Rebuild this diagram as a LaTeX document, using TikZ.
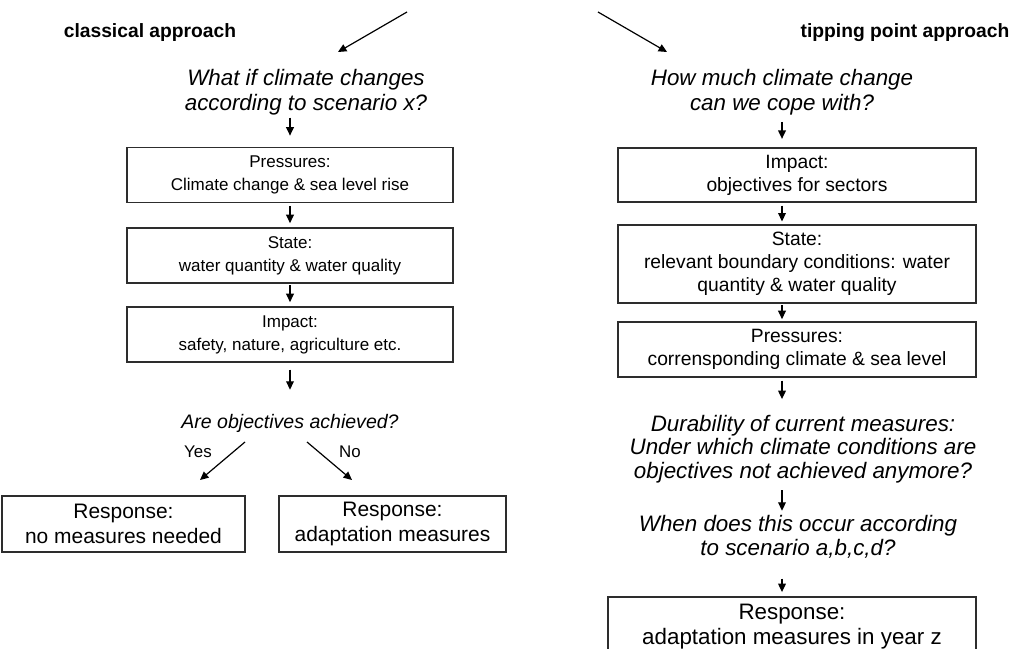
\documentclass[tikz,border=0pt]{standalone}
\usepackage{fontspec}
\setmainfont{Liberation Sans}
\usetikzlibrary{calc, arrows.meta}
\definecolor{boxline}{RGB}{45,45,45}

\begin{document}
\begin{tikzpicture}[x=0.025cm, y=-0.025cm, >={Triangle[width=5.5pt, length=6pt]},
  title/.style={font=\bfseries\fontsize{13.7}{16}\selectfont},
  quest/.style={align=center, inner sep=0pt, font=\itshape\fontsize{15.9}{17.4}\selectfont},
  boxL/.style={draw=boxline, line width=1pt, align=center, inner sep=0pt,
    minimum width=8.15cm, minimum height=1.37cm, font=\fontsize{12.1}{16.4}\selectfont},
  boxR/.style={boxL, minimum width=8.95cm, font=\fontsize{13.7}{16.4}\selectfont},
  resp/.style={boxL, minimum height=1.4cm, font=\fontsize{14.9}{17.8}\selectfont},
  flow/.style={->, line width=0.85pt},
  lab/.style={font=\fontsize{12}{14}\selectfont}]

  \useasboundingbox (0,0) rectangle (1013,649);

  % Titles
  \node[title] (tcl) at (150,33) {classical approach};
  \node[title] (ttp) at (905,33) {tipping point approach};

  % Split at the top
  \coordinate (fromL) at (407,12);
  \coordinate (toL) at (338,52);
  \coordinate (fromR) at (598,12);
  \coordinate (toR) at (667,52);
  \draw[flow] (fromL) -- (toL);
  \draw[flow] (fromR) -- (toR);

  % Classical approach
  \node[quest] (qL) at (306,92) {What if climate changes\\according to scenario x?};
  \node[boxL] (pL) at (290,175) {Pressures:\\Climate change \& sea level rise};
  \node[boxL] (sL) at (290,255.5) {State:\\water quantity \& water quality};
  \node[boxL] (iL) at (290,334.5) {Impact:\\safety, nature, agriculture etc.};
  \node[quest, font=\itshape\fontsize{13.9}{16}\selectfont] (aL) at (290,423) {Are objectives achieved?};
  \node[lab] (yes) at (198,452) {Yes};
  \node[lab] (no) at (350,452) {No};
  \node[resp, minimum width=6.075cm] (rY) at (123.5,524) {Response:\\no measures needed};
  \node[resp, minimum width=5.675cm] (rN) at (392.5,524) {Response:\\adaptation measures};

  \draw[flow, shorten <=2pt, shorten >=8pt] (qL.south -| pL.north) -- (pL.north);
  \draw[flow, shorten <=2pt, shorten >=3pt] (pL) -- (sL);
  \draw[flow, shorten <=1pt, shorten >=3pt] (sL) -- (iL);
  \draw[flow, shorten <=5pt, shorten >=17pt] (iL) -- (aL);

  \coordinate (yesA) at (245,442);
  \coordinate (yesB) at (200,480);
  \coordinate (noA) at (307,442);
  \coordinate (noB) at (352,480);
  \draw[flow] (yesA) -- (yesB);
  \draw[flow] (noA) -- (noB);

  % Tipping point approach
  \coordinate (axR) at (782,0);
  \node[quest] (qR) at (782,92) {How much climate change\\can we cope with?};
  \node[boxR, minimum height=1.35cm] (iR) at (797,175) {Impact:\\objectives for sectors};
  \node[boxR, minimum height=1.95cm] (sR) at (797,264) {State:\\relevant boundary conditions: water\\quantity \& water quality};
  \node[boxR, minimum height=1.375cm] (pR) at (797,349.5) {Pressures:\\corrensponding climate \& sea level};
  \node[quest, font=\itshape\fontsize{15.9}{16.9}\selectfont] (dR) at (803,449) {Durability of current measures:\\Under which climate conditions are\\objectives not achieved anymore?};
  \node[quest] (wR) at (798,537) {When does this occur according\\to scenario a,b,c,d?};
  \node[resp, minimum width=9.2cm, minimum height=1.5cm, font=\fontsize{15.9}{17.8}\selectfont] (rR) at (792,627) {Response:\\adaptation measures in year z};

  \draw[flow, shorten <=5pt, shorten >=6pt] (qR.south -| axR) -- (iR.north -| axR);
  \draw[flow, shorten <=2pt, shorten >=2pt] (iR.south -| axR) -- (sR.north -| axR);
  \draw[flow, shorten <=1pt, shorten >=1.5pt] (sR.south -| axR) -- (pR.north -| axR);
  \draw[flow, shorten <=2pt, shorten >=11pt] (pR.south -| axR) -- (dR.north -| axR);
  \draw[flow, shorten <=5pt, shorten >=3pt] (dR.south -| axR) -- (wR.north -| axR);
  \draw[flow, shorten <=14pt, shorten >=3pt] (wR.south -| axR) -- (rR.north -| axR);
\end{tikzpicture}
\end{document}
